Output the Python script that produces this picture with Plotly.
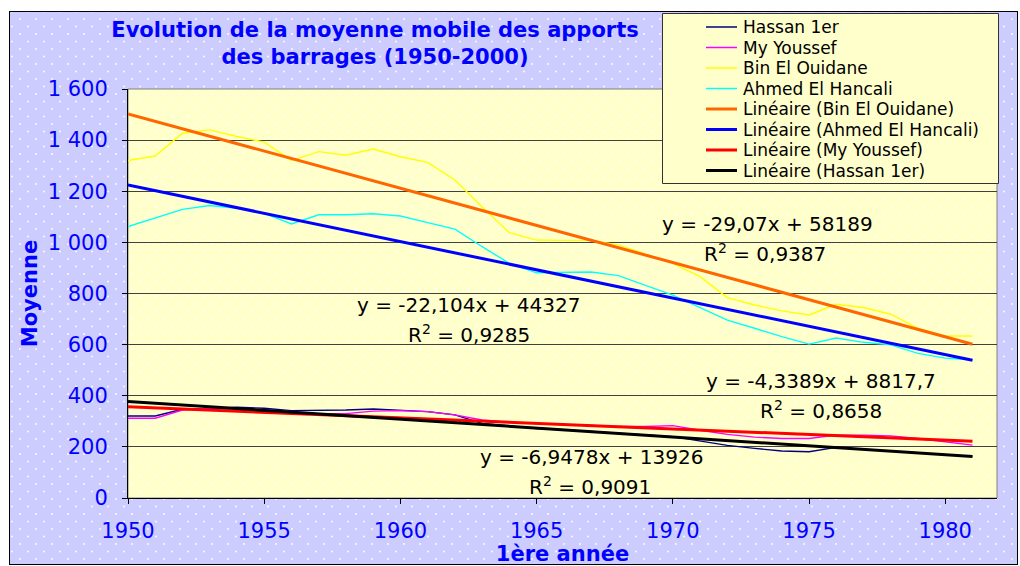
import base64
import plotly.graph_objects as go

# ---------------- data ----------------
years = list(range(1950, 1982))
hassan = [321, 321, 347, 349, 355, 351, 342, 342, 344, 348,
          344, 338, 325, 292, 282, 272, 267, 261, 254, 247,
          240, 223, 206, 194, 184, 181, 198, 191, 184, 177,
          170, 163]
youssef = [312, 312, 344, 349, 350, 345, 338, 330, 330, 340,
           342, 338, 325, 305, 296, 292, 288, 285, 280, 280,
           283, 265, 249, 238, 233, 233, 246, 246, 243, 233,
           220, 207]
bin_ouidane = [1320, 1338, 1427, 1440, 1414, 1392, 1320, 1355, 1341, 1365,
               1335, 1313, 1244, 1138, 1038, 1009, 1008, 1008, 990, 955,
               918, 866, 784, 755, 732, 716, 758, 745, 719, 664,
               634, 634]
ahmed = [1062, 1097, 1129, 1144, 1133, 1114, 1072, 1108, 1108, 1112,
         1103, 1077, 1052, 983, 918, 881, 883, 884, 870, 832,
         794, 745, 696, 664, 631, 602, 626, 609, 599, 566,
         547, 540]

trend_years = [1950, 1981]
trend_bin = [1502.5, 601.3]
trend_ahmed = [1224.2, 539.0]
trend_youssef = [356.8, 222.3]
trend_hassan = [377.8, 162.4]

equations = [
    ("y = -29,07x + 58189", "R<sup>2</sup> = 0,9387"),
    ("y = -22,104x + 44327", "R<sup>2</sup> = 0,9285"),
    ("y = -4,3389x + 8817,7", "R<sup>2</sup> = 0,8658"),
    ("y = -6,9478x + 13926", "R<sup>2</sup> = 0,9091"),
]

legend_names = ["Hassan 1er", "My Youssef", "Bin El Ouidane", "Ahmed El Hancali",
                "Linéaire (Bin El Ouidane)", "Linéaire (Ahmed El Hancali)",
                "Linéaire (My Youssef)", "Linéaire (Hassan 1er)"]

# ---------------- geometry ----------------
W, H = 1020, 566
L, R, T, B = 128, 997, 89, 498
PW, PH = R - L, B - T
FONT = "DejaVu Sans"
BLUE = "#0000ff"


def px(x):
    return (x - L) / PW


def py(y):
    return (B - y) / PH


colors = {
    "hassan": "#000080", "youssef": "#ff00ff", "bin": "#ffff00", "ahmed": "#00ffff",
    "tbin": "#ff6600", "tahmed": "#0000ff", "tyoussef": "#ff0000", "thassan": "#000000",
}

fig = go.Figure()
series = [("Hassan 1er", hassan, colors["hassan"]),
          ("My Youssef", youssef, colors["youssef"]),
          ("Bin El Ouidane", bin_ouidane, colors["bin"]),
          ("Ahmed El Hancali", ahmed, colors["ahmed"])]
for name, vals, c in series:
    fig.add_trace(go.Scatter(x=years, y=vals, mode="lines", name=name,
                             line=dict(color=c, width=1.4), showlegend=False))
trends = [("Linéaire (Bin El Ouidane)", trend_bin, colors["tbin"]),
          ("Linéaire (Ahmed El Hancali)", trend_ahmed, colors["tahmed"]),
          ("Linéaire (My Youssef)", trend_youssef, colors["tyoussef"]),
          ("Linéaire (Hassan 1er)", trend_hassan, colors["thassan"])]
for name, vals, c in trends:
    fig.add_trace(go.Scatter(x=trend_years, y=vals, mode="lines", name=name,
                             line=dict(color=c, width=3), showlegend=False))

# ---------------- background (dotted fills) ----------------
svg = f'''<svg xmlns="http://www.w3.org/2000/svg" width="{W}" height="{H}" viewBox="0 0 {W} {H}" preserveAspectRatio="none">
<defs>
<pattern id="pl" x="0" y="0" width="16" height="15" patternUnits="userSpaceOnUse">
<rect width="16" height="15" fill="#ccccff"/>
<circle cx="4" cy="4" r="0.9" fill="#ffffff"/>
<circle cx="12" cy="11.5" r="0.9" fill="#ffffff"/>
</pattern>
<pattern id="py" x="0" y="0" width="16" height="15" patternUnits="userSpaceOnUse">
<rect width="16" height="15" fill="#ffffcc"/>
<circle cx="4" cy="4" r="0.9" fill="#ffffff"/>
<circle cx="12" cy="11.5" r="0.9" fill="#ffffff"/>
</pattern>
</defs>
<rect x="0" y="0" width="{W}" height="{H}" fill="#ffffff"/>
<rect x="9.5" y="11.5" width="1008" height="553" fill="url(#pl)" stroke="#000000" stroke-width="1"/>
<rect x="{L}" y="{T}" width="{PW}" height="{PH}" fill="url(#py)"/>
</svg>'''
src = "data:image/svg+xml;base64," + base64.b64encode(svg.encode("utf-8")).decode("ascii")
fig.add_layout_image(dict(source=src, xref="paper", yref="paper",
                          x=px(0), y=py(0), sizex=W / PW, sizey=H / PH,
                          xanchor="left", yanchor="top", sizing="stretch", layer="below"))

# plot-area border
fig.add_shape(type="rect", xref="paper", yref="paper", x0=0, y0=0, x1=1, y1=1,
              line=dict(color="#808080", width=1), layer="below")

# ---------------- legend (drawn box) ----------------
fig.add_shape(type="rect", xref="paper", yref="paper",
              x0=px(662.5), y0=py(183.5), x1=px(998.5), y1=py(13.5),
              fillcolor="#ffffcc", line=dict(color="#333333", width=1), layer="above")
row_y = [27, 47.5, 68, 88.5, 109, 129.5, 150, 170.5]
leg_colors = [colors["hassan"], colors["youssef"], colors["bin"], colors["ahmed"],
              colors["tbin"], colors["tahmed"], colors["tyoussef"], colors["thassan"]]
leg_widths = [1.5, 1.5, 1.5, 1.5, 3, 3, 3, 3]
for name, yy, c, w in zip(legend_names, row_y, leg_colors, leg_widths):
    fig.add_shape(type="line", xref="paper", yref="paper",
                  x0=px(706), x1=px(737), y0=py(yy), y1=py(yy),
                  line=dict(color=c, width=w), layer="above")
    fig.add_annotation(text=name, xref="paper", yref="paper", x=px(741), y=py(yy),
                       xanchor="left", yanchor="middle", showarrow=False,
                       font=dict(family=FONT, size=17, color="#000000"))

# ---------------- equations ----------------
eq_pos = [(767, 224, 765, 253), (468, 305, 469, 334), (821, 381, 821, 410), (591, 457, 590, 486)]
for (eq, r2), (x1, y1, x2, y2) in zip(equations, eq_pos):
    fig.add_annotation(text=eq, xref="paper", yref="paper", x=px(x1), y=py(y1),
                       xanchor="center", yanchor="middle", showarrow=False,
                       font=dict(family=FONT, size=20, color="#000000"))
    fig.add_annotation(text=r2, xref="paper", yref="paper", x=px(x2), y=py(y2),
                       xanchor="center", yanchor="middle", showarrow=False,
                       font=dict(family=FONT, size=20, color="#000000"))

fig.update_layout(
    width=W, height=H,
    margin=dict(l=L, r=W - R, t=T, b=H - B, autoexpand=False),
    paper_bgcolor="#ffffff", plot_bgcolor="rgba(0,0,0,0)",
    separators=", ",
    showlegend=False,
    title=dict(text="Evolution de la moyenne mobile des apports<br>des barrages (1950-2000)",
               x=375 / W, xanchor="center", xref="container",
               y=1 - 37 / H, yanchor="top", yref="container",
               font=dict(family=FONT, size=21, color=BLUE, weight="bold")),
    xaxis=dict(range=[1950, 1981.9], tick0=1950, dtick=5, showgrid=False, zeroline=False,
               showline=True, linecolor="#000000", linewidth=1,
               ticks="outside", ticklen=5, tickcolor="#000000",
               ticklabelstandoff=9,
               tickfont=dict(family=FONT, size=21, color=BLUE),
               title=dict(text="1ère année", standoff=3,
                          font=dict(family=FONT, size=21, color=BLUE, weight="bold"))),
    yaxis=dict(range=[0, 1600], tick0=0, dtick=200, showgrid=True, gridcolor="#404040",
               gridwidth=1, zeroline=False, separatethousands=True,
               showline=True, linecolor="#000000", linewidth=1,
               ticks="outside", ticklen=5, tickcolor="#000000",
               ticklabelstandoff=10,
               tickfont=dict(family=FONT, size=21, color=BLUE),
               title=dict(text="Moyenne", standoff=4,
                          font=dict(family=FONT, size=21, color=BLUE, weight="bold"))),
)

fig.write_html("out.html", config={"displayModeBar": False},
               post_script="document.body.style.margin='0px';")
